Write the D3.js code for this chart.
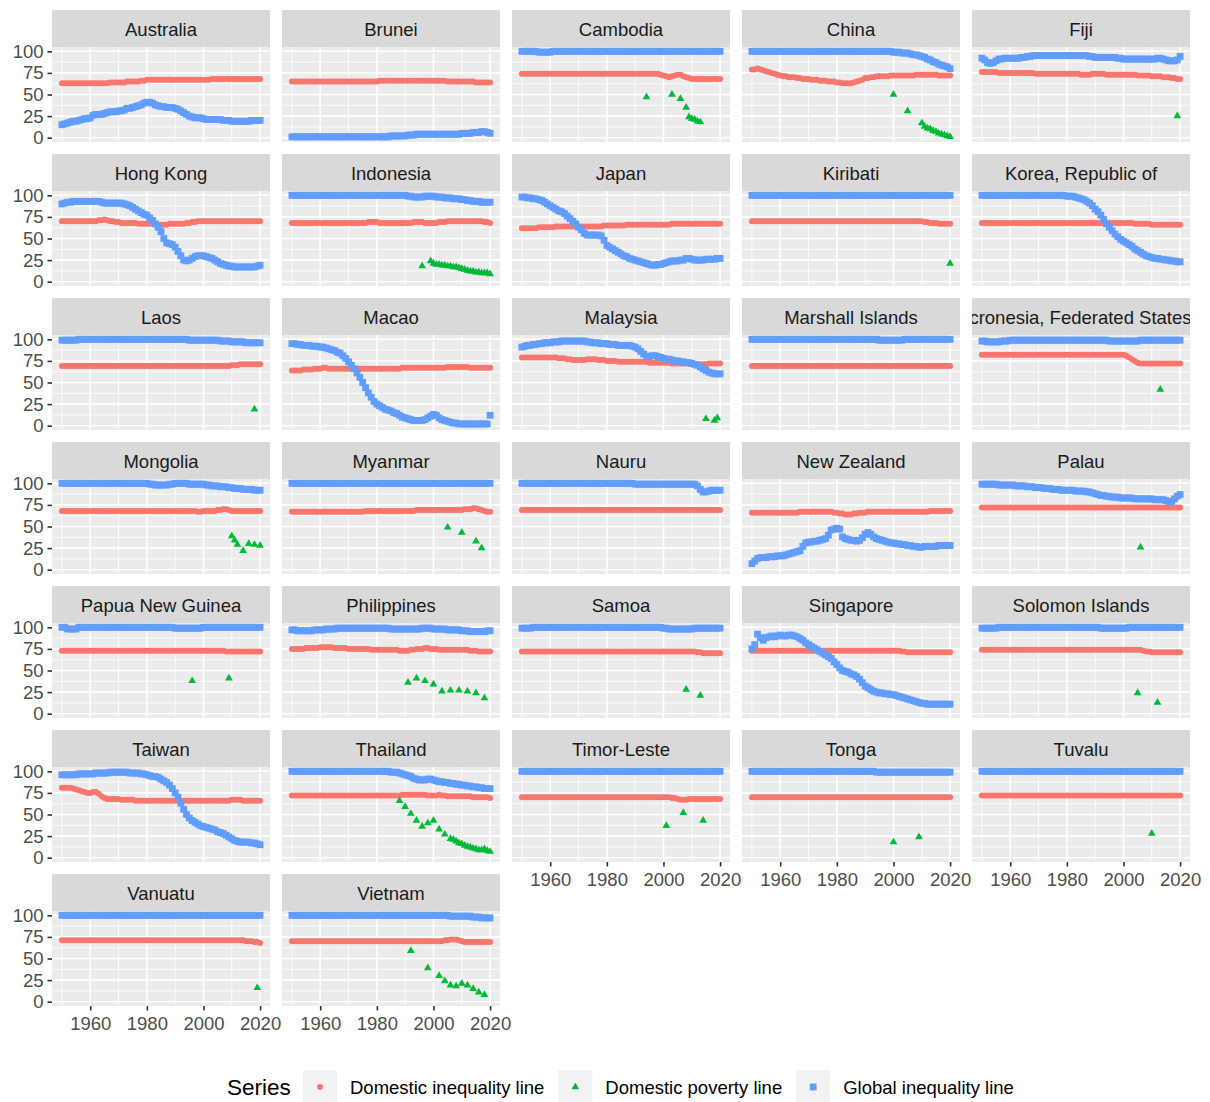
<!DOCTYPE html>
<html><head><meta charset="utf-8">
<script src="https://cdn.jsdelivr.net/npm/d3@7"></script>
<style>body{margin:0;background:#fff}svg{display:block}text{font-family:"Liberation Sans",Arial,sans-serif}</style>
</head><body><svg id="chart" width="1210" height="1102"></svg>
<script>
// ---------------- DATA ----------------
const years = d3.range(1950, 2021); // 1950..2020, one value per year in each series below
const xTicks = [1960, 1980, 2000, 2020];
const xMinorTicks = [1950, 1970, 1990, 2010];
const yTicks = [0, 25, 50, 75, 100];
const yMinorTicks = [12.5, 37.5, 62.5, 87.5];
const seriesNames = ["Domestic inequality line", "Domestic poverty line", "Global inequality line"];

const AU_di=[63,63,63,63,63,63,63,63,63,63,
63,63,63,63,63,63,63,64,64,64,
64,64,64,65,65,65,65,65,66,66,
67,67,67,67,67,67,67,67,67,67,
67,67,67,67,67,67,67,67,67,67,
67,67,67,68,68,68,68,68,68,68,
68,68,68,68,68,68,68,68,68,68,
68];
const AU_gi=[15,16,17,18,19,19,20,21,22,22,
23,26,27,27,27,28,29,30,30,30,
31,31,32,34,34,35,36,37,38,40,
41,41,40,38,37,36,36,35,35,35,
34,33,31,29,27,25,24,23,23,23,
22,21,21,21,21,21,21,20,20,20,
19,19,19,19,19,19,19,20,20,20,
20];
const AU_dp=[];

const BN_di=[65,65,65,65,65,65,65,65,65,65,
65,65,65,65,65,65,65,65,65,65,
65,65,65,65,65,65,65,65,65,65,
65,66,66,66,66,66,66,66,66,66,
66,66,66,66,66,66,66,66,66,66,
66,66,66,66,66,65,65,65,65,65,
65,65,65,65,65,64,64,64,64,64,
64];
const BN_gi=[1,1,1,1,1,1,1,1,1,1,
1,1,1,1,1,1,1,1,1,1,
1,1,1,1,1,1,1,1,1,1,
1,1,1,1,1,2,2,2,2,2,
2,3,3,3,4,4,4,4,4,4,
4,4,4,4,4,4,4,4,4,4,
5,5,5,5,6,6,6,7,7,6,
5];
const BN_dp=[];

const KH_di=[74,74,74,74,74,74,74,74,74,74,
74,74,74,74,74,74,74,74,74,74,
74,74,74,74,74,74,74,74,74,74,
74,74,74,74,74,74,74,74,74,74,
74,74,74,74,74,74,74,74,74,73,
72,71,70,71,72,73,73,71,70,69,
68,68,68,68,68,68,68,68,68,68,
68];
const KH_gi=[100,100,100,100,100,100,99,99,99,99,
99,100,100,100,100,100,100,100,100,100,
100,100,100,100,100,100,100,100,100,100,
100,100,100,100,100,100,100,100,100,100,
100,100,100,100,100,100,100,100,100,100,
100,100,100,100,100,100,100,100,100,100,
100,100,100,100,100,100,100,100,100,100,
100];
const KH_dp=[[1994,47],[2003,50],[2006,45],[2008,35],[2009,24],[2010,22],[2011,21],[2012,19],[2013,18]];

const CN_di=[79,79,80,79,78,77,76,75,74,73,
72,71,71,70,70,70,69,69,68,68,
68,67,67,67,66,66,66,65,65,65,
64,64,63,63,63,63,64,65,66,67,
69,69,70,70,71,71,71,71,71,72,
72,72,72,72,72,72,72,72,73,73,
73,73,73,73,73,73,72,72,72,72,
72];
const CN_gi=[100,100,100,100,100,100,100,100,100,100,
100,100,100,100,100,100,100,100,100,100,
100,100,100,100,100,100,100,100,100,100,
100,100,100,100,100,100,100,100,100,100,
100,100,100,100,100,100,100,100,100,100,
99,99,99,98,98,98,97,96,96,95,
94,93,91,90,88,87,85,84,83,82,
80];
const CN_dp=[[2000,50],[2005,31],[2010,17],[2011,13],[2012,11],[2013,10],[2014,8],[2015,7],[2016,5],[2017,4],[2018,3],[2019,2],[2020,1]];

const FJ_di=[76,76,76,76,76,76,75,75,75,75,
75,75,75,75,75,75,75,75,75,74,
74,74,74,74,74,74,74,74,74,74,
74,74,74,74,74,73,73,73,73,74,
74,74,74,74,73,73,73,73,73,73,
73,73,73,73,73,72,72,72,72,72,
71,71,71,71,70,70,70,69,69,68,
68];
const FJ_gi=[92,90,87,86,87,89,91,91,92,92,
92,92,92,92,93,93,94,94,95,95,
95,95,95,95,95,95,95,95,95,95,
95,95,95,95,95,95,95,95,94,94,
93,93,93,93,93,93,93,93,92,92,
91,91,91,91,91,91,91,91,91,91,
91,91,92,92,91,90,89,89,89,90,
94];
const FJ_dp=[[2019,25]];

const HK_di=[70,70,70,70,70,70,70,70,70,70,
70,70,70,71,71,72,71,70,70,69,
69,68,68,68,68,68,68,67,67,67,
67,67,67,66,66,66,66,66,67,67,
67,67,67,67,68,68,69,69,70,70,
70,70,70,70,70,70,70,70,70,70,
70,70,70,70,70,70,70,70,70,70,
70];
const HK_gi=[90,91,92,92,93,93,93,93,93,93,
93,93,93,93,92,91,91,91,91,91,
91,91,90,89,88,86,84,82,80,78,
77,74,71,67,63,58,50,45,44,43,
40,35,30,25,24,25,27,29,30,30,
30,29,28,27,25,23,21,20,19,18,
18,17,17,17,17,17,17,17,17,18,
19];
const HK_dp=[];

const ID_di=[68,68,68,68,68,68,68,68,68,68,
68,68,68,68,68,68,68,68,68,68,
68,68,68,68,68,68,68,69,69,69,
69,68,68,68,68,68,68,68,68,68,
68,68,68,69,69,69,69,68,68,68,
68,68,69,69,69,70,70,70,70,70,
70,70,70,70,70,70,70,70,69,69,
68];
const ID_gi=[100,100,100,100,100,100,100,100,100,100,
100,100,100,100,100,100,100,100,100,100,
100,100,100,100,100,100,100,100,100,100,
100,100,100,100,100,100,100,100,100,100,
100,99,99,98,98,98,98,99,99,99,
99,98,98,98,97,97,97,96,96,96,
95,95,94,94,93,93,93,92,92,92,
92];
const ID_dp=[[1996,18],[1999,24],[2000,21],[2001,20],[2002,20],[2003,19],[2004,19],[2005,18],[2006,18],[2007,17],[2008,17],[2009,16],[2010,15],[2011,14],[2012,13],[2013,12],[2014,12],[2015,11],[2016,11],[2017,10],[2018,10],[2019,10],[2020,9]];

const JP_di=[62,62,62,62,62,62,63,63,63,63,
63,63,64,64,64,64,64,64,64,64,
64,64,64,64,64,64,64,64,64,65,
65,65,65,65,65,65,65,66,66,66,
66,66,66,66,66,66,66,66,66,66,
66,66,66,67,67,67,67,67,67,67,
67,67,67,67,67,67,67,67,67,67,
67];
const JP_gi=[98,98,97,97,96,96,95,94,92,90,
88,86,84,82,81,79,76,73,70,67,
63,60,56,54,54,54,54,54,53,48,
42,40,38,36,34,32,30,29,27,26,
25,24,23,22,21,20,19,19,20,20,
21,22,23,24,24,24,25,25,27,27,
26,25,25,25,25,26,26,26,26,27,
27];
const JP_dp=[];

const KI_di=[70,70,70,70,70,70,70,70,70,70,
70,70,70,70,70,70,70,70,70,70,
70,70,70,70,70,70,70,70,70,70,
70,70,70,70,70,70,70,70,70,70,
70,70,70,70,70,70,70,70,70,70,
70,70,70,70,70,70,70,70,70,70,
70,69,69,68,68,68,67,67,67,67,
67];
const KI_gi=[100,100,100,100,100,100,100,100,100,100,
100,100,100,100,100,100,100,100,100,100,
100,100,100,100,100,100,100,100,100,100,
100,100,100,100,100,100,100,100,100,100,
100,100,100,100,100,100,100,100,100,100,
100,100,100,100,100,100,100,100,100,100,
100,100,100,100,100,100,100,100,100,100,
100];
const KI_dp=[[2020,21]];

const KR_di=[68,68,68,68,68,68,68,68,68,68,
68,68,68,68,68,68,68,68,68,68,
68,68,68,68,68,68,68,68,68,68,
68,68,68,68,68,68,68,68,68,68,
68,68,68,68,68,68,68,68,68,68,
68,68,68,68,67,67,67,67,67,67,
66,66,66,66,66,66,66,66,66,66,
66];
const KR_gi=[100,100,100,100,100,100,100,100,100,100,
100,100,100,100,100,100,100,100,100,100,
100,100,100,100,100,100,100,100,100,100,
99,99,99,98,97,96,95,93,91,88,
84,81,77,72,67,63,59,55,52,49,
47,45,43,41,38,36,34,32,30,29,
28,27,27,26,26,25,25,24,24,23,
23];
const KR_dp=[];

const LA_di=[69,69,69,69,69,69,69,69,69,69,
69,69,69,69,69,69,69,69,69,69,
69,69,69,69,69,69,69,69,69,69,
69,69,69,69,69,69,69,69,69,69,
69,69,69,69,69,69,69,69,69,69,
69,69,69,69,69,69,69,69,69,69,
70,70,70,71,71,71,71,71,71,71,
71];
const LA_gi=[99,99,99,99,99,99,100,100,100,100,
100,100,100,100,100,100,100,100,100,100,
100,100,100,100,100,100,100,100,100,100,
100,100,100,100,100,100,100,100,100,100,
100,100,100,100,100,99,99,99,99,99,
99,99,99,99,99,99,98,98,98,98,
97,97,97,97,97,96,96,96,96,96,
96];
const LA_dp=[[2018,19]];

const MO_di=[64,64,64,64,65,65,65,65,66,66,
66,67,67,66,66,66,66,66,66,66,
66,66,66,66,66,66,66,66,66,66,
66,66,66,66,66,66,66,66,66,67,
67,67,67,67,67,67,67,67,67,67,
67,67,67,67,67,68,68,68,68,68,
68,68,68,67,67,67,67,67,67,67,
67];
const MO_gi=[95,95,94,94,93,93,93,92,92,92,
91,91,90,89,88,87,85,84,81,78,
74,70,66,61,56,50,44,38,33,28,
25,23,21,19,18,17,15,14,12,10,
9,8,7,6,6,6,6,7,9,11,
13,12,9,7,6,5,4,3,3,2,
2,2,2,2,2,2,2,2,2,2,
12];
const MO_dp=[];

const MY_di=[79,79,79,79,79,79,79,79,79,79,
79,79,79,78,78,78,77,77,76,76,
76,76,76,77,77,77,77,76,76,76,
75,75,75,75,74,74,74,74,74,74,
74,74,74,74,74,73,73,73,73,73,
73,73,73,72,72,72,72,72,72,72,
72,71,71,71,71,71,72,72,72,72,
72];
const MY_gi=[91,92,93,93,94,94,95,95,96,96,
96,97,97,97,98,98,98,98,98,98,
98,98,98,97,97,96,96,96,95,95,
95,94,94,94,93,93,93,93,93,92,
91,89,86,83,80,80,81,81,80,79,
78,77,77,76,75,75,74,74,73,73,
72,71,70,68,66,64,62,61,60,60,
60];
const MY_dp=[[2015,8],[2018,6],[2019,9]];

const MH_di=[69,69,69,69,69,69,69,69,69,69,
69,69,69,69,69,69,69,69,69,69,
69,69,69,69,69,69,69,69,69,69,
69,69,69,69,69,69,69,69,69,69,
69,69,69,69,69,69,69,69,69,69,
69,69,69,69,69,69,69,69,69,69,
69,69,69,69,69,69,69,69,69,69,
69];
const MH_gi=[100,100,100,100,100,100,100,100,100,100,
100,100,100,100,100,100,100,100,100,100,
100,100,100,100,100,100,100,100,100,100,
100,100,100,100,100,100,100,100,100,100,
100,100,100,100,100,99,99,99,99,99,
99,99,99,99,100,100,100,100,100,100,
100,100,100,100,100,100,100,100,100,100,
100];
const MH_dp=[];

const FM_di=[82,82,82,82,82,82,82,82,82,82,
82,82,82,82,82,82,82,82,82,82,
82,82,82,82,82,82,82,82,82,82,
82,82,82,82,82,82,82,82,82,82,
82,82,82,82,82,82,82,82,82,82,
82,81,79,77,75,73,72,72,72,72,
72,72,72,72,72,72,72,72,72,72,
72];
const FM_gi=[98,98,97,97,97,97,97,98,98,98,
99,99,99,99,99,99,99,99,99,99,
99,99,99,99,99,99,99,99,99,99,
99,99,99,99,99,99,99,99,99,99,
99,99,99,99,99,98,98,98,98,98,
98,98,98,98,98,98,99,99,99,99,
99,99,99,99,99,99,99,99,99,99,
99];
const FM_dp=[[2013,42]];

const MN_di=[68,68,68,68,68,68,68,68,68,68,
68,68,68,68,68,68,68,68,68,68,
68,68,68,68,68,68,68,68,68,68,
68,68,68,68,68,68,68,68,68,68,
68,68,68,68,68,68,68,68,67,67,
68,68,68,68,68,69,69,70,70,69,
68,68,68,68,68,68,68,68,68,68,
68];
const MN_gi=[100,100,100,100,100,100,100,100,100,100,
100,100,100,100,100,100,100,100,100,100,
100,100,100,100,100,100,100,100,100,100,
100,99,99,98,98,98,98,98,99,99,
100,100,100,100,100,99,99,99,99,99,
99,98,98,97,97,97,96,96,96,95,
95,94,94,94,93,93,93,93,92,92,
92];
const MN_dp=[[2010,39],[2011,34],[2012,29],[2014,22],[2016,30],[2018,29],[2020,28]];

const MM_di=[67,67,67,67,67,67,67,67,67,67,
67,67,67,67,67,67,67,67,67,67,
67,67,67,67,67,67,68,68,68,68,
68,68,68,68,68,68,68,68,68,68,
68,68,68,68,69,69,69,69,69,69,
69,69,69,69,69,69,69,69,69,69,
69,70,70,70,71,71,70,69,68,67,
67];
const MM_gi=[100,100,100,100,100,100,100,100,100,100,
100,100,100,100,100,100,100,100,100,100,
100,100,100,100,100,100,100,100,100,100,
100,100,100,100,100,100,100,100,100,100,
100,100,100,100,100,100,100,100,100,100,
100,100,100,100,100,100,100,100,100,100,
100,100,100,100,100,100,100,100,100,100,
100];
const MM_dp=[[2005,49],[2010,43],[2015,33],[2017,25]];

const NR_di=[69,69,69,69,69,69,69,69,69,69,
69,69,69,69,69,69,69,69,69,69,
69,69,69,69,69,69,69,69,69,69,
69,69,69,69,69,69,69,69,69,69,
69,69,69,69,69,69,69,69,69,69,
69,69,69,69,69,69,69,69,69,69,
69,69,69,69,69,69,69,69,69,69,
69];
const NR_gi=[100,100,100,100,100,100,100,100,100,100,
100,100,100,100,100,100,100,100,100,100,
100,100,100,100,100,100,100,100,100,100,
100,100,100,100,100,100,100,100,100,100,
99,99,99,99,99,99,99,99,99,99,
99,99,99,99,99,99,99,99,99,99,
99,99,97,93,90,90,91,92,92,92,
92];
const NR_dp=[];

const NZ_di=[66,66,66,66,66,66,66,66,66,66,
66,66,66,66,66,66,66,67,67,67,
67,67,67,67,67,67,67,67,67,66,
66,65,65,64,64,64,65,65,66,66,
66,67,67,67,67,67,67,67,67,67,
67,67,67,67,67,67,67,67,67,67,
67,67,67,68,68,68,68,68,68,68,
68];
const NZ_gi=[7,10,13,14,14,14,15,15,15,16,
16,16,17,18,19,20,21,22,27,31,
32,32,33,33,34,35,36,40,46,47,
48,47,38,36,35,34,34,33,34,37,
41,43,41,38,36,35,34,33,32,31,
31,30,30,29,29,28,28,27,27,26,
26,27,27,27,27,27,28,28,28,28,
28];
const NZ_dp=[];

const PW_di=[72,72,72,72,72,72,72,72,72,72,
72,72,72,72,72,72,72,72,72,72,
72,72,72,72,72,72,72,72,72,72,
72,72,72,72,72,72,72,72,72,72,
72,72,72,72,72,72,72,72,72,72,
72,72,72,72,72,72,72,72,72,72,
72,72,72,72,72,72,72,72,72,72,
72];
const PW_gi=[99,99,99,99,99,99,98,98,98,98,
98,98,97,97,97,97,96,96,96,95,
95,95,94,94,94,93,93,93,92,92,
92,92,92,91,91,91,91,90,90,89,
88,87,86,86,85,85,84,84,84,83,
83,83,83,83,82,82,82,82,82,82,
82,81,81,81,81,80,79,79,82,85,
87];
const PW_dp=[[2006,26]];

const PG_di=[73,73,73,73,73,73,73,73,73,73,
73,73,73,73,73,73,73,73,73,73,
73,73,73,73,73,73,73,73,73,73,
73,73,73,73,73,73,73,73,73,73,
73,73,73,73,73,73,73,73,73,73,
73,73,73,73,73,73,73,73,72,72,
72,72,72,72,72,72,72,72,72,72,
72];
const PG_gi=[100,100,98,98,98,98,100,100,100,100,
100,100,100,100,100,100,100,100,100,100,
100,100,100,100,100,100,100,100,100,100,
100,100,100,100,100,100,100,100,100,100,
99,99,99,99,99,99,99,99,99,99,
100,100,100,100,100,100,100,100,100,100,
100,100,100,100,100,100,100,100,100,100,
100];
const PG_dp=[[1996,38],[2009,41]];

const PH_di=[75,75,75,75,75,76,76,76,76,76,
77,77,77,77,77,76,76,76,76,76,
75,75,75,75,75,75,75,75,74,74,
74,74,74,74,74,74,74,74,73,73,
73,73,74,74,75,75,75,76,76,75,
75,75,74,74,74,74,74,74,74,74,
74,74,74,73,73,73,72,72,72,72,
72];
const PH_gi=[97,97,96,96,96,96,96,96,97,97,
97,97,98,98,98,98,99,99,99,99,
99,99,99,99,99,99,99,99,99,99,
99,99,99,99,99,98,98,98,98,98,
98,98,98,98,98,98,99,99,99,99,
98,98,98,98,98,97,97,97,97,97,
96,96,96,95,95,95,95,95,95,96,
96];
const PH_dp=[[1991,36],[1994,41],[1997,38],[2000,34],[2003,26],[2006,27],[2009,27],[2012,26],[2015,24],[2018,18]];

const WS_di=[72,72,72,72,72,72,72,72,72,72,
72,72,72,72,72,72,72,72,72,72,
72,72,72,72,72,72,72,72,72,72,
72,72,72,72,72,72,72,72,72,72,
72,72,72,72,72,72,72,72,72,72,
72,72,72,72,72,72,72,72,72,72,
72,72,71,71,70,70,70,70,70,70,
70];
const WS_gi=[99,99,99,99,100,100,100,100,100,100,
100,100,100,100,100,100,100,100,100,100,
100,100,100,100,100,100,100,100,100,100,
100,100,100,100,100,100,100,100,100,100,
100,100,100,100,100,100,100,100,100,100,
99,99,98,98,98,98,98,98,98,98,
98,99,99,99,99,99,99,99,99,99,
99];
const WS_dp=[[2008,28],[2013,21]];

const SG_di=[73,73,73,73,73,73,73,73,73,73,
73,73,73,73,73,73,73,73,73,73,
73,73,73,73,73,73,73,73,73,73,
73,73,73,73,73,73,73,73,73,73,
73,73,73,73,73,73,73,73,73,73,
73,73,73,72,72,71,71,71,71,71,
71,71,71,71,71,71,71,71,71,71,
71];
const SG_gi=[75,80,92,88,85,88,89,90,89,90,
91,90,90,91,91,90,89,87,85,82,
80,78,76,74,72,70,68,66,64,60,
57,53,50,49,48,46,45,43,40,36,
32,30,28,26,25,24,24,23,23,22,
22,21,20,19,18,17,16,15,14,13,
12,12,11,11,11,11,11,11,11,11,
11];
const SG_dp=[];

const SB_di=[74,74,74,74,74,74,74,74,74,74,
74,74,74,74,74,74,74,74,74,74,
74,74,74,74,74,74,74,74,74,74,
74,74,74,74,74,74,74,74,74,74,
74,74,74,74,74,74,74,74,74,74,
74,74,74,74,74,74,74,73,72,72,
71,71,71,71,71,71,71,71,71,71,
71];
const SB_gi=[99,99,99,99,99,99,100,100,100,100,
100,100,100,100,100,100,100,100,100,100,
100,100,100,100,100,100,100,100,100,100,
100,100,100,100,100,100,100,100,100,100,
100,100,99,99,99,99,99,99,99,99,
99,99,100,100,100,100,100,100,100,100,
100,100,100,100,100,100,100,100,100,100,
100];
const SB_dp=[[2005,24],[2012,13]];

const TW_di=[81,81,81,81,80,79,78,77,76,75,
75,76,76,74,71,69,68,68,68,68,
68,67,67,67,67,67,66,66,66,66,
66,66,66,66,66,66,66,66,66,66,
66,66,66,66,66,66,66,66,66,66,
66,66,66,66,66,66,66,66,66,66,
67,67,67,67,66,66,66,66,66,66,
66];
const TW_gi=[96,96,96,96,96,96,97,97,97,97,
97,97,98,98,98,98,98,99,99,99,
99,99,99,99,98,98,98,98,97,97,
96,95,94,94,93,91,89,87,84,80,
75,70,63,56,50,46,43,41,39,37,
36,35,34,33,32,30,29,28,26,24,
22,20,19,18,18,18,18,17,17,16,
15];
const TW_dp=[];

const TH_di=[72,72,72,72,72,72,72,72,72,72,
72,72,72,72,72,72,72,72,72,72,
72,72,72,72,72,72,72,72,72,72,
72,72,72,72,72,72,72,72,72,73,
73,73,73,73,73,73,73,73,72,72,
72,72,73,72,72,71,71,71,71,71,
71,71,71,71,70,70,70,70,70,70,
69];
const TH_gi=[100,100,100,100,100,100,100,100,100,100,
100,100,100,100,100,100,100,100,100,100,
100,100,100,100,100,100,100,100,100,100,
100,100,100,100,100,99,99,99,98,97,
96,95,94,92,91,90,90,90,91,91,
90,89,88,88,87,87,86,86,85,85,
84,84,83,83,82,82,81,81,80,80,
80];
const TH_dp=[[1988,66],[1990,59],[1992,51],[1994,43],[1996,36],[1998,40],[2000,43],[2002,33],[2004,27],[2006,22],[2007,21],[2008,19],[2009,17],[2010,16],[2011,14],[2012,13],[2013,12],[2014,11],[2015,10],[2016,9],[2017,9],[2018,10],[2019,8],[2020,7]];

const TL_di=[70,70,70,70,70,70,70,70,70,70,
70,70,70,70,70,70,70,70,70,70,
70,70,70,70,70,70,70,70,70,70,
70,70,70,70,70,70,70,70,70,70,
70,70,70,70,70,70,70,70,70,70,
70,70,70,69,69,68,67,67,67,68,
68,68,68,68,68,68,68,68,68,68,
68];
const TL_gi=[100,100,100,100,100,100,100,100,100,100,
100,100,100,100,100,100,100,100,100,100,
100,100,100,100,100,100,100,100,100,100,
100,100,100,100,100,100,100,100,100,100,
100,100,100,100,100,100,100,100,100,100,
100,100,100,100,100,100,100,100,100,100,
100,100,100,100,100,100,100,100,100,100,
100];
const TL_dp=[[2001,37],[2007,52],[2014,43]];

const TO_di=[70,70,70,70,70,70,70,70,70,70,
70,70,70,70,70,70,70,70,70,70,
70,70,70,70,70,70,70,70,70,70,
70,70,70,70,70,70,70,70,70,70,
70,70,70,70,70,70,70,70,70,70,
70,70,70,70,70,70,70,70,70,70,
70,70,70,70,70,70,70,70,70,70,
70];
const TO_gi=[100,100,100,100,100,100,100,100,100,100,
100,100,100,100,100,100,100,100,100,100,
100,100,100,100,100,100,100,100,100,100,
100,100,100,100,100,100,100,100,100,100,
100,100,100,100,99,99,99,99,99,99,
99,99,99,99,99,99,99,99,99,99,
99,99,99,99,99,99,99,99,99,99,
99];
const TO_dp=[[2000,18],[2009,24]];

const TV_di=[72,72,72,72,72,72,72,72,72,72,
72,72,72,72,72,72,72,72,72,72,
72,72,72,72,72,72,72,72,72,72,
72,72,72,72,72,72,72,72,72,72,
72,72,72,72,72,72,72,72,72,72,
72,72,72,72,72,72,72,72,72,72,
72,72,72,72,72,72,72,72,72,72,
72];
const TV_gi=[100,100,100,100,100,100,100,100,100,100,
100,100,100,100,100,100,100,100,100,100,
100,100,100,100,100,100,100,100,100,100,
100,100,100,100,100,100,100,100,100,100,
100,100,100,100,100,100,100,100,100,100,
100,100,100,100,100,100,100,100,100,100,
100,100,100,100,100,100,100,100,100,100,
100];
const TV_dp=[[2010,28]];

const VU_di=[71,71,71,71,71,71,71,71,71,71,
71,71,71,71,71,71,71,71,71,71,
71,71,71,71,71,71,71,71,71,71,
71,71,71,71,71,71,71,71,71,71,
71,71,71,71,71,71,71,71,71,71,
71,71,71,71,71,71,71,71,71,71,
71,71,71,71,71,70,70,70,69,69,
68];
const VU_gi=[100,100,100,100,100,100,100,100,100,100,
100,100,100,100,100,100,100,100,100,100,
100,100,100,100,100,100,100,100,100,100,
100,100,100,100,100,100,100,100,100,100,
100,100,100,100,100,100,100,100,100,100,
100,100,100,100,100,100,100,100,100,100,
100,100,100,100,100,100,100,100,100,100,
100];
const VU_dp=[[2019,16]];

const VN_di=[70,70,70,70,70,70,70,70,70,70,
70,70,70,70,70,70,70,70,70,70,
70,70,70,70,70,70,70,70,70,70,
70,70,70,70,70,70,70,70,70,70,
70,70,70,70,70,70,70,70,70,70,
70,70,70,70,71,71,72,72,72,71,
70,69,69,69,69,69,69,69,69,69,
69];
const VN_gi=[100,100,100,100,100,100,100,100,100,100,
100,100,100,100,100,100,100,100,100,100,
100,100,100,100,100,100,100,100,100,100,
100,100,100,100,100,100,100,100,100,100,
100,100,100,100,100,100,100,100,100,100,
100,100,100,100,100,100,99,99,99,99,
99,99,99,99,98,98,98,97,97,97,
97];
const VN_dp=[[1992,59],[1998,39],[2002,30],[2004,24],[2006,19],[2008,18],[2010,21],[2012,19],[2014,15],[2016,11],[2018,8]];

const countries = ["Australia","Brunei","Cambodia","China","Fiji","Hong Kong","Indonesia","Japan","Kiribati","Korea, Republic of","Laos","Macao","Malaysia","Marshall Islands","Micronesia, Federated States of","Mongolia","Myanmar","Nauru","New Zealand","Palau","Papua New Guinea","Philippines","Samoa","Singapore","Solomon Islands","Taiwan","Thailand","Timor-Leste","Tonga","Tuvalu","Vanuatu","Vietnam"];
const domesticInequality = [AU_di,BN_di,KH_di,CN_di,FJ_di,HK_di,ID_di,JP_di,KI_di,KR_di,LA_di,MO_di,MY_di,MH_di,FM_di,MN_di,MM_di,NR_di,NZ_di,PW_di,PG_di,PH_di,WS_di,SG_di,SB_di,TW_di,TH_di,TL_di,TO_di,TV_di,VU_di,VN_di];
const globalInequality = [AU_gi,BN_gi,KH_gi,CN_gi,FJ_gi,HK_gi,ID_gi,JP_gi,KI_gi,KR_gi,LA_gi,MO_gi,MY_gi,MH_gi,FM_gi,MN_gi,MM_gi,NR_gi,NZ_gi,PW_gi,PG_gi,PH_gi,WS_gi,SG_gi,SB_gi,TW_gi,TH_gi,TL_gi,TO_gi,TV_gi,VU_gi,VN_gi];
const domesticPoverty = [AU_dp,BN_dp,KH_dp,CN_dp,FJ_dp,HK_dp,ID_dp,JP_dp,KI_dp,KR_dp,LA_dp,MO_dp,MY_dp,MH_dp,FM_dp,MN_dp,MM_dp,NR_dp,NZ_dp,PW_dp,PG_dp,PH_dp,WS_dp,SG_dp,SB_dp,TW_dp,TH_dp,TL_dp,TO_dp,TV_dp,VU_dp,VN_dp];

// ---------------- DRAW ----------------
const COL = {di:"#F8766D", dp:"#00BA38", gi:"#619CFF"};
const NCOL = 5, PW = 218, PH = 95, SH = 37, X0 = 52, CSTEP = 230, Y0 = 10, RSTEP = 144;
const FS = "18.5px";

const svg = d3.select("#chart");
svg.append("rect").attr("width",1210).attr("height",1102).attr("fill","#fff");
const defs = svg.append("defs");
defs.append("clipPath").attr("id","pclip").append("rect").attr("width",PW).attr("height",PH);
defs.append("clipPath").attr("id","sclip").append("rect").attr("width",PW).attr("height",SH);

const x = d3.scaleLinear().domain([1946.5, 2023.5]).range([0, PW]);
const y = d3.scaleLinear().domain([-5, 105]).range([PH, 0]);

const circleR = 3.0, squareS = 6.8;
const tri = d3.symbol(d3.symbolTriangle, 26);

function styleAxis(g){
  g.select(".domain").remove();
  g.selectAll(".tick line").attr("stroke","#333333").attr("stroke-width",1.6);
  g.selectAll(".tick text").attr("fill","#4D4D4D").style("font-size",FS)
   .style("font-family",'"Liberation Sans",Arial,sans-serif');
}

const problems = [];
countries.forEach((name, i) => {
  if (domesticInequality[i].length !== years.length) problems.push(name+" di "+domesticInequality[i].length);
  if (globalInequality[i].length !== years.length) problems.push(name+" gi "+globalInequality[i].length);
  const r = Math.floor(i / NCOL), c = i % NCOL;
  const g = svg.append("g").attr("transform", `translate(${X0 + c*CSTEP},${Y0 + r*RSTEP})`);

  // strip (long labels are clipped by the strip, as in the original)
  const sg = g.append("g").attr("clip-path","url(#sclip)");
  sg.append("rect").attr("width",PW).attr("height",SH).attr("fill","#D9D9D9");
  sg.append("text").attr("x",PW/2).attr("y",SH/2 + 1).attr("dy","0.36em")
    .attr("text-anchor","middle").attr("fill","#1A1A1A").style("font-size",FS).text(name);

  // panel
  const p = g.append("g").attr("transform",`translate(0,${SH})`);
  p.append("rect").attr("width",PW).attr("height",PH).attr("fill","#EBEBEB");
  p.selectAll(".ymin").data(yMinorTicks).join("line")
    .attr("x1",0).attr("x2",PW).attr("y1",d=>y(d)).attr("y2",d=>y(d))
    .attr("stroke","#fff").attr("stroke-width",0.8);
  p.selectAll(".xmin").data(xMinorTicks).join("line")
    .attr("y1",0).attr("y2",PH).attr("x1",d=>x(d)).attr("x2",d=>x(d))
    .attr("stroke","#fff").attr("stroke-width",0.8);
  p.selectAll(".ymaj").data(yTicks).join("line")
    .attr("x1",0).attr("x2",PW).attr("y1",d=>y(d)).attr("y2",d=>y(d))
    .attr("stroke","#fff").attr("stroke-width",1.6);
  p.selectAll(".xmaj").data(xTicks).join("line")
    .attr("y1",0).attr("y2",PH).attr("x1",d=>x(d)).attr("x2",d=>x(d))
    .attr("stroke","#fff").attr("stroke-width",1.6);

  const pts = p.append("g").attr("clip-path","url(#pclip)");
  const di = years.map((yr,k)=>({yr, v: domesticInequality[i][k]})).filter(d=>d.v!=null);
  const gi = years.map((yr,k)=>({yr, v: globalInequality[i][k]})).filter(d=>d.v!=null);
  const dp = domesticPoverty[i].map(([yr,v])=>({yr,v}));

  pts.append("g").selectAll("circle").data(di).join("circle")
    .attr("cx",d=>x(d.yr)).attr("cy",d=>y(d.v)).attr("r",circleR).attr("fill",COL.di);
  pts.append("g").selectAll("path").data(dp).join("path")
    .attr("d",tri).attr("transform",d=>`translate(${x(d.yr)},${y(d.v)})`).attr("fill",COL.dp);
  pts.append("g").selectAll("rect").data(gi).join("rect")
    .attr("x",d=>x(d.yr)-squareS/2).attr("y",d=>y(d.v)-squareS/2)
    .attr("width",squareS).attr("height",squareS).attr("fill",COL.gi);

  // axes
  if (c === 0) {
    p.append("g").call(d3.axisLeft(y).tickValues(yTicks).tickSize(4.5).tickPadding(4)).call(styleAxis);
  }
  if (i + NCOL >= countries.length) {
    p.append("g").attr("transform",`translate(0,${PH})`)
      .call(d3.axisBottom(x).tickValues(xTicks).tickFormat(d3.format("d")).tickSize(4.5).tickPadding(6.5))
      .call(styleAxis);
  }
});

// legend
const lg = svg.append("g");
const LCY = 1087;
lg.append("text").attr("x",227).attr("y",LCY).attr("dy","0.36em").attr("fill","#000")
  .style("font-size","22.5px").text("Series");
let lx = 303;
seriesNames.forEach((label, k) => {
  lg.append("rect").attr("x",lx).attr("y",LCY-17).attr("width",34).attr("height",34).attr("fill","#F2F2F2");
  const cx = lx + 17;
  if (k === 0) lg.append("circle").attr("cx",cx).attr("cy",LCY).attr("r",circleR).attr("fill",COL.di);
  if (k === 1) lg.append("path").attr("d",tri).attr("transform",`translate(${cx},${LCY})`).attr("fill",COL.dp);
  if (k === 2) lg.append("rect").attr("x",cx-squareS/2).attr("y",LCY-squareS/2).attr("width",squareS).attr("height",squareS).attr("fill",COL.gi);
  const t = lg.append("text").attr("x",lx+47).attr("y",LCY).attr("dy","0.36em").attr("fill","#000")
    .style("font-size",FS).text(label);
  lx += 47 + t.node().getComputedTextLength() + 14;
});

if (problems.length) { console.error("Length problems: " + problems.join("; ")); throw new Error("Length problems: " + problems.join("; ")); }
</script>
</body></html>
